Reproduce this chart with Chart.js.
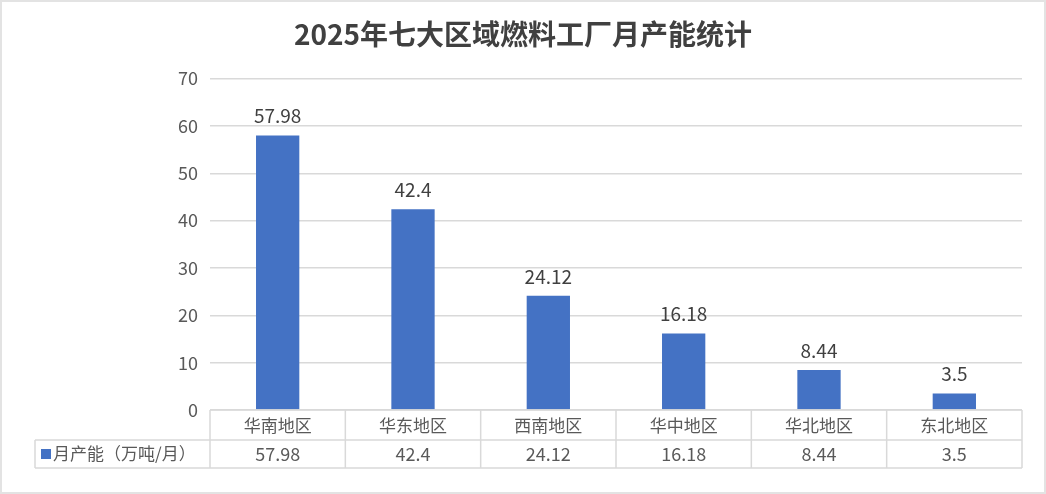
<!DOCTYPE html>
<html>
<head>
<meta charset="utf-8">
<script src="https://cdn.jsdelivr.net/npm/chart.js@4"></script>
<style>
  html, body { margin: 0; padding: 0; background: #fff; }
  canvas { display: block; }
</style>
</head>
<body>
<canvas id="capChart" width="1046" height="494"></canvas>
<script>
// data
const regions = ['华南地区', '华东地区', '西南地区', '华中地区', '华北地区', '东北地区'];
const capacity = [57.98, 42.4, 24.12, 16.18, 8.44, 3.5];
const seriesName = '月产能（万吨/月）';
const yTicks = [0, 10, 20, 30, 40, 50, 60, 70];

const FONT = "'Noto Sans CJK SC', 'Noto Sans', sans-serif";
const BLUE = '#4472c4';
const GRID = '#d9d9d9';
const TEXT = '#595959';

// outer frame of the chart object
const framePlugin = {
    id: 'frame',
    beforeDraw(chart) {
        const ctx = chart.ctx;
        ctx.save();
        ctx.fillStyle = '#fff';
        ctx.fillRect(0, 0, chart.width, chart.height);
        ctx.strokeStyle = '#e3e3e3';
        ctx.lineWidth = 2;
        ctx.strokeRect(1, 1, chart.width - 2, chart.height - 2);
        ctx.restore();
    }
};

// value labels above bars + data table under the x axis
const tablePlugin = {
    id: 'dataTable',
    afterDatasetsDraw(chart) {
        const ctx = chart.ctx;
        const meta = chart.getDatasetMeta(0);
        ctx.save();
        ctx.font = '19px ' + FONT;
        ctx.fillStyle = '#404040';
        ctx.textAlign = 'center';
        ctx.textBaseline = 'bottom';
        meta.data.forEach((bar, i) => {
            ctx.fillText(String(capacity[i]), bar.x, bar.y - 10);
        });
        ctx.restore();
    },
    afterDraw(chart) {
        const ctx = chart.ctx;
        const area = chart.chartArea;
        const x = chart.scales.x;
        const top = area.bottom;
        const mid = top + 30;
        const bottom = top + 58;
        const legendLeft = 35;
        const step = (area.right - area.left) / regions.length;

        ctx.save();
        ctx.strokeStyle = GRID;
        ctx.lineWidth = 1.5;
        ctx.beginPath();
        ctx.moveTo(area.left, top); ctx.lineTo(area.right, top);
        ctx.moveTo(legendLeft, mid); ctx.lineTo(area.right, mid);
        ctx.moveTo(legendLeft, bottom); ctx.lineTo(area.right, bottom);
        ctx.moveTo(legendLeft, mid); ctx.lineTo(legendLeft, bottom);
        for (let i = 0; i <= regions.length; i++) {
            const px = area.left + step * i;
            ctx.moveTo(px, top); ctx.lineTo(px, bottom);
        }
        ctx.stroke();

        // legend key cell
        ctx.fillStyle = BLUE;
        ctx.fillRect(legendLeft + 6, mid + 9, 10, 10);
        ctx.fillStyle = TEXT;
        ctx.font = '17px ' + FONT;
        ctx.textAlign = 'left';
        ctx.textBaseline = 'middle';
        ctx.fillText(seriesName, legendLeft + 18, (mid + bottom) / 2);

        // values row
        ctx.font = '18px ' + FONT;
        ctx.textAlign = 'center';
        capacity.forEach((v, i) => {
            ctx.fillText(String(v), x.getPixelForValue(i), (mid + bottom) / 2);
        });
        ctx.restore();
    }
};

new Chart(document.getElementById('capChart'), {
    type: 'bar',
    data: {
        labels: regions,
        datasets: [{
            label: seriesName,
            data: capacity,
            backgroundColor: BLUE,
            categoryPercentage: 1,
            barPercentage: 0.32
        }]
    },
    options: {
        responsive: false,
        animation: false,
        devicePixelRatio: 1,
        layout: { padding: { left: 24, right: 24, top: 0, bottom: 26 } },
        plugins: {
            legend: { display: false },
            tooltip: { enabled: false },
            title: {
                display: true,
                text: '2025年七大区域燃料工厂月产能统计',
                color: '#404040',
                font: { family: FONT, size: 28, weight: 'bold', lineHeight: 1.2 },
                padding: { top: 18, bottom: 27 }
            }
        },
        scales: {
            x: {
                grid: { display: false, drawTicks: false },
                border: { display: false },
                ticks: {
                    color: TEXT,
                    padding: 5,
                    maxRotation: 0,
                    minRotation: 0,
                    autoSkip: false,
                    font: { family: FONT, size: 17 }
                },
                afterFit(scale) { scale.height = 58; }
            },
            y: {
                min: 0,
                max: 70,
                afterBuildTicks(scale) { scale.ticks = yTicks.map(v => ({ value: v })); },
                grid: { color: GRID, lineWidth: 1.5, drawTicks: false },
                border: { display: false },
                ticks: {
                    color: TEXT,
                    padding: 12,
                    font: { family: FONT, size: 18 }
                },
                afterFit(scale) { scale.width = 186; }
            }
        }
    },
    plugins: [framePlugin, tablePlugin]
});
</script>
</body>
</html>
